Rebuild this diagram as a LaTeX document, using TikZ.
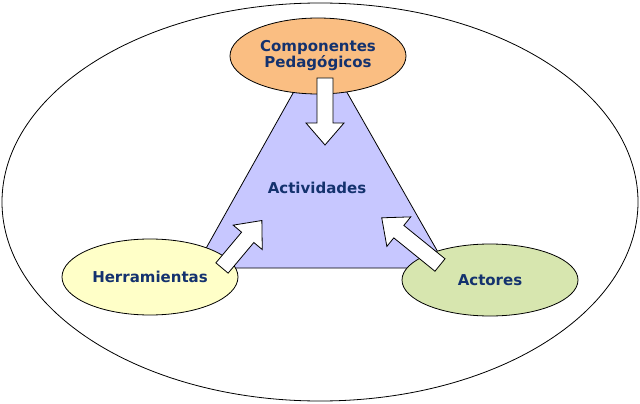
\documentclass[tikz,border=0pt]{standalone}
\usepackage{fontspec}
\setmainfont{DejaVu Sans}
\usetikzlibrary{shapes.geometric}
\definecolor{txt}{RGB}{20,50,110}
\newcommand{\blockarr}[4]{%
  \begin{scope}[shift={(#1,#2)},rotate=#3]
    \draw[fill=white,line width=0.8pt] (0,-8) -- ({#4-22},-8) -- ({#4-22},-19) -- (#4,0) -- ({#4-22},19) -- ({#4-22},8) -- (0,8) -- cycle;
  \end{scope}}
\begin{document}
\begin{tikzpicture}[x=1pt,y=-1pt,
  lbl/.style={font=\bfseries\fontsize{15}{16}\selectfont,text=txt,align=center},
  oval/.style={draw=black,line width=0.8pt,ellipse,minimum width=176pt,minimum height=76pt,inner sep=0pt,lbl}]
\useasboundingbox (0,0) rectangle (640,404);
\node[draw=black,line width=0.8pt,ellipse,minimum width=636pt,minimum height=398pt,fill=white] (outer) at (320,202) {};
\draw[fill={rgb,255:red,199;green,199;blue,255},line width=0.8pt] (195,268) -- (447,268) -- (320,45) -- cycle;
\node[lbl] (act) at (317,188) {Actividades};
\node[oval,fill={rgb,255:red,250;green,190;blue,130}] (comp) at (318,56) {Componentes\\Pedagógicos};
\node[oval,fill={rgb,255:red,255;green,255;blue,200}] (herr) at (150,277) {Herramientas};
\node[oval,fill={rgb,255:red,215;green,230;blue,175},minimum height=72pt] (act2) at (490,280) {Actores};
\blockarr{325}{78}{-90}{67}
\blockarr{222}{268}{50}{62}
\blockarr{440}{265}{141}{75}
\end{tikzpicture}
\end{document}
